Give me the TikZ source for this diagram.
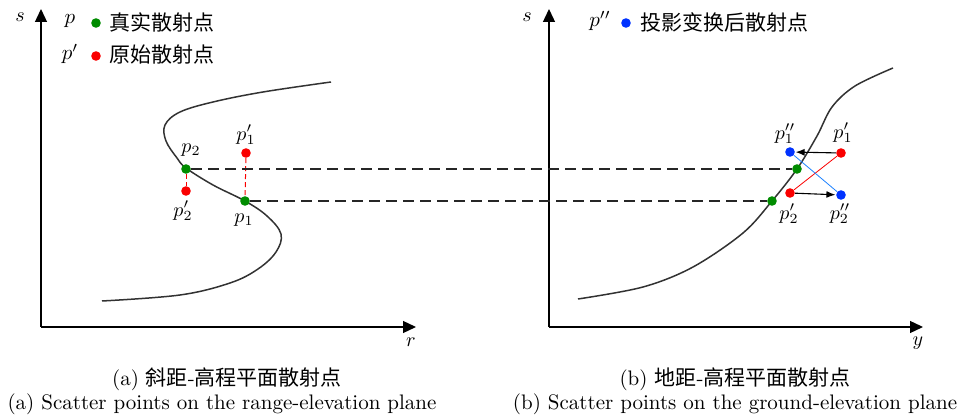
\RequirePackage{fix-cm}
\documentclass[tikz,border=0pt]{standalone}
\usepackage{fontspec}
\newfontfamily\cjk{Noto Sans CJK SC}
\usetikzlibrary{arrows.meta}
\definecolor{gdotc}{RGB}{0,140,0}
\definecolor{rdotc}{RGB}{250,0,0}
\definecolor{bdotc}{RGB}{0,50,255}
\definecolor{bline}{RGB}{30,130,255}
\definecolor{curvec}{RGB}{50,50,50}
\begin{document}
\begin{tikzpicture}[x=0.5pt,y=-0.5pt,
  dotbase/.style={circle,inner sep=0pt,minimum size=4.8pt},
  gdot/.style={dotbase,fill=gdotc},
  rdot/.style={dotbase,fill=rdotc},
  bdot/.style={dotbase,fill=bdotc},
  axisline/.style={line width=0.65pt,-{Triangle[length=6.5pt,width=6pt]}},
  curveline/.style={line width=0.75pt,curvec},
  hdash/.style={line width=0.6pt,black!85,dash pattern=on 5.5pt off 3pt},
  rdash/.style={line width=0.5pt,rdotc,dash pattern=on 2.5pt off 1.5pt},
  mv/.style={line width=0.55pt,black,-{Latex[length=4.5pt,width=3.5pt]},shorten >=0.2pt},
  lbl/.style={inner sep=0pt,font=\fontsize{10}{12}\selectfont},
  leg/.style={inner sep=0pt,font=\fontsize{10.5}{12}\selectfont\cjk},
  legm/.style={inner sep=0pt,font=\fontsize{10.5}{12}\selectfont},
  captext/.style={inner sep=0pt,font=\fontsize{10.5}{12}\selectfont},
  capcjk/.style={inner sep=0pt,font=\fontsize{10.5}{12}\selectfont}
]
\useasboundingbox (0,0) rectangle (964,416);

% ---------------- left panel ----------------
\coordinate (Lo) at (41,327);
\coordinate (Ly) at (41,9);
\coordinate (Lx) at (416,327);
\draw[axisline] (Lo) -- (Ly);
\draw[axisline] (Lo) -- (Lx);
\node[lbl] (ls) at (20,17) {$s$};
\node[lbl] (lr) at (411,342) {$r$};

\node[legm] (lp) at (70,21) {$p$};
\node[gdot] (lgd) at (96,23) {};
\node[leg,anchor=west] (lgt) at (109,22) {真实散射点};
\node[legm] (lpp) at (70,54) {$p'$};
\node[rdot] (lrd) at (96,56) {};
\node[leg,anchor=west] (lrt) at (109,55) {原始散射点};

\draw[curveline] plot[smooth,tension=0.6] coordinates {(331,82) (263,92) (213,102) (180,112) (165,125) (166,141) (177,158) (186,168) (213,185) (245,201) (267,216) (281,234) (276,252) (258,269) (230,283) (180,295) (102,301)};

\node[gdot] (p2) at (186,169) {};
\node[rdot] (p2r) at (186,191) {};
\node[rdot] (p1r) at (246,153) {};
\node[gdot] (p1) at (245,201) {};
\draw[rdash] (p2) -- (p2r);
\draw[rdash] (p1r) -- (p1);
\node[lbl] (lp2) at (191,150) {$p_2$};
\node[lbl] (lp2r) at (183,211) {$p_2'$};
\node[lbl] (lp1r) at (246,135) {$p_1'$};
\node[lbl] (lp1) at (244,220) {$p_1$};

% ---------------- right panel ----------------
\coordinate (Ro) at (549,327);
\coordinate (Ry) at (549,9);
\coordinate (Rx) at (923,327);
\draw[axisline] (Ro) -- (Ry);
\draw[axisline] (Ro) -- (Rx);
\node[lbl] (rs) at (527,17) {$s$};
\node[lbl] (ry) at (918,343) {$y$};

\node[legm] (rpp) at (600,21) {$p''$};
\node[bdot] (rbd) at (626,23) {};
\node[leg,anchor=west] (rbt) at (640,22) {投影变换后散射点};

\draw[curveline] plot[smooth,tension=0.55] coordinates {(578,299) (643,287) (693,267) (743,233) (772,201) (797,169) (817,136) (832,107) (855,86) (893,68)};

\node[gdot] (g1) at (797,169) {};
\node[gdot] (g2) at (772,201) {};
\node[bdot] (q1) at (790,152) {};
\node[rdot] (r1) at (841,153) {};
\node[rdot] (r2) at (790,193) {};
\node[bdot] (q2) at (841,195) {};

\draw[line width=0.4pt,rdotc] (r2) -- (r1);
\draw[line width=0.4pt,bline] (q1) -- (q2);
\draw[mv] (r1) -- (q1);
\draw[mv] (r2) -- (q2);

\node[lbl] (lq1) at (785,134) {$p_1''$};
\node[lbl] (lr1) at (843,133) {$p_1'$};
\node[lbl] (lr2) at (789,214) {$p_2'$};
\node[lbl] (lq2) at (840,214) {$p_2''$};

% connecting dashed lines
\draw[hdash] (p2) -- (g1);
\draw[hdash] (p1) -- (g2);

% ---------------- captions ----------------
\node[capcjk] (ca1) at (227,379) {(a) {\cjk 斜距}-{\cjk 高程平面散射点}};
\node[captext] (ca2) at (222,404) {(a) Scatter points on the range-elevation plane};
\node[capcjk] (cb1) at (735,379) {(b) {\cjk 地距}-{\cjk 高程平面散射点}};
\node[captext] (cb2) at (735,404) {(b) Scatter points on the ground-elevation plane};
\end{tikzpicture}
\end{document}
